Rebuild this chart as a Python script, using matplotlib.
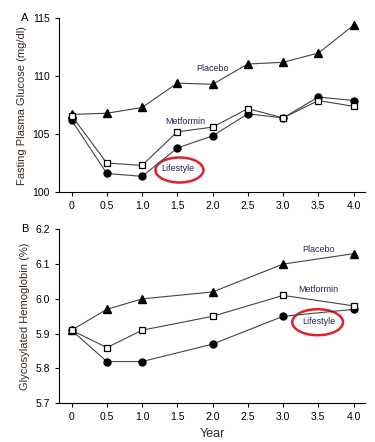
import matplotlib
matplotlib.use("Agg")
import matplotlib.pyplot as plt
from matplotlib.patches import Ellipse

plt.rcParams['font.family'] = ['Liberation Sans', 'DejaVu Sans']

# panel A: fasting plasma glucose
yearsA = [0, 0.5, 1.0, 1.5, 2.0, 2.5, 3.0, 3.5, 4.0]
placeboA = [106.7, 106.8, 107.3, 109.4, 109.3, 111.05, 111.2, 112.0, 114.4]
metforminA = [106.6, 102.5, 102.3, 105.2, 105.6, 107.2, 106.4, 107.9, 107.4]
lifestyleA = [106.2, 101.6, 101.35, 103.8, 104.85, 106.75, 106.4, 108.2, 107.9]

# panel B: glycosylated hemoglobin
yearsB = [0, 0.5, 1.0, 2.0, 3.0, 4.0]
placeboB = [5.91, 5.97, 6.00, 6.02, 6.10, 6.13]
metforminB = [5.91, 5.86, 5.91, 5.95, 6.01, 5.98]
lifestyleB = [5.91, 5.82, 5.82, 5.87, 5.95, 5.97]

xticks = [0, 0.5, 1.0, 1.5, 2.0, 2.5, 3.0, 3.5, 4.0]
xticklabels = ['0', '0.5', '1.0', '1.5', '2.0', '2.5', '3.0', '3.5', '4.0']

linecol = '#444444'
txtcol = '#2a2350'

fig = plt.figure(figsize=(3.75, 4.42), dpi=100)
axA = fig.add_axes([0.157, 0.5656, 0.816, 0.393])
axB = fig.add_axes([0.157, 0.0876, 0.816, 0.3936])


def style(ax, ylim, yticks, yfmt):
    ax.set_xlim(-0.18, 4.16)
    ax.set_ylim(*ylim)
    ax.set_xticks(xticks)
    ax.set_xticklabels(xticklabels)
    ax.set_yticks(yticks)
    ax.set_yticklabels([yfmt % v for v in yticks])
    for s in ['top', 'right']:
        ax.spines[s].set_visible(False)
    for s in ['left', 'bottom']:
        ax.spines[s].set_linewidth(0.8)
    ax.tick_params(labelsize=7.5, length=3, width=0.8, direction='out')


def draw(ax, x, p, m, l):
    ax.plot(x, p, '-', color=linecol, lw=0.8, marker='^', ms=5.5,
            mfc='black', mec='black', zorder=3)
    ax.plot(x, m, '-', color=linecol, lw=0.8, marker='s', ms=5,
            mfc='white', mec='black', mew=0.9, zorder=4)
    ax.plot(x, l, '-', color=linecol, lw=0.8, marker='o', ms=5,
            mfc='black', mec='black', zorder=3)


draw(axA, yearsA, placeboA, metforminA, lifestyleA)
style(axA, (100, 115), [100, 105, 110, 115], '%d')
axA.set_ylabel('Fasting Plasma Glucose (mg/dl)', fontsize=8, color='#3a2a20')
axA.text(2.0, 110.7, 'Placebo', fontsize=6.5, color=txtcol, ha='center', va='center')
axA.text(1.61, 106.1, 'Metformin', fontsize=6.5, color=txtcol, ha='center', va='center')
axA.text(1.51, 102.0, 'Lifestyle', fontsize=6.5, color=txtcol, ha='center', va='center')
axA.add_patch(Ellipse((1.53, 101.9), 0.68, 2.16, fill=False, ec='#e0202a', lw=1.8,
                      clip_on=False))
fig.text(25 / 375, 1 - 18 / 442, 'A', fontsize=8, ha='center', va='center')

draw(axB, yearsB, placeboB, metforminB, lifestyleB)
style(axB, (5.7, 6.2), [5.7, 5.8, 5.9, 6.0, 6.1, 6.2], '%.1f')
axB.set_ylabel('Glycosylated Hemoglobin (%)', fontsize=8, color='#3a2a20')
axB.set_xlabel('Year', fontsize=9, color='#3a2a20', labelpad=4)
axB.text(3.5, 6.143, 'Placebo', fontsize=6.5, color=txtcol, ha='center', va='center')
axB.text(3.5, 6.027, 'Metformin', fontsize=6.5, color=txtcol, ha='center', va='center')
axB.text(3.5, 5.935, 'Lifestyle', fontsize=6.5, color=txtcol, ha='center', va='center')
axB.add_patch(Ellipse((3.49, 5.933), 0.72, 0.0747, fill=False, ec='#e0202a', lw=1.8,
                      clip_on=False))
fig.text(25 / 375, 1 - 229 / 442, 'B', fontsize=8, ha='center', va='center')

fig.savefig('out.png', dpi=100)
